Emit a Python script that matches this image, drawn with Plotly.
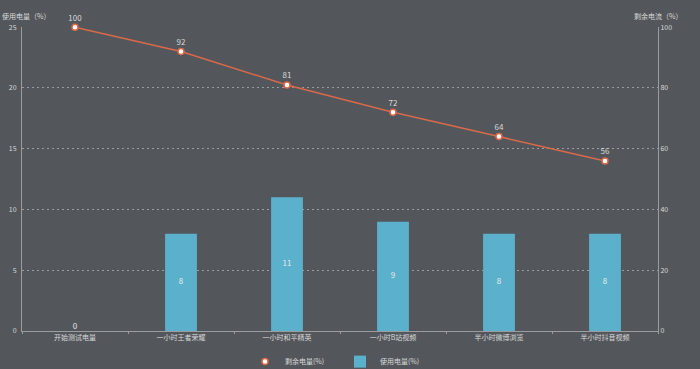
import plotly.graph_objects as go

categories = ["开始测试电量", "一小时王者荣耀", "一小时和平精英", "一小时B站视频", "半小时微博浏览", "半小时抖音视频"]
used_power = [0, 8, 11, 9, 8, 8]
remaining_power = [100, 92, 81, 72, 64, 56]
left_ticks = [0, 5, 10, 15, 20, 25]
right_ticks = [0, 20, 40, 60, 80, 100]

BG = "#53575c"
FONT = "Noto Sans CJK SC"
TXT = "#d8d8d8"
BAR = "#5bb1cc"
LINE = "#d9694a"

fig = go.Figure()
fig.add_trace(go.Bar(
    x=categories, y=used_power, name="使用电量(%)",
    marker=dict(color=BAR, line=dict(width=0)), width=0.3,
    yaxis="y", showlegend=True,
))
fig.add_trace(go.Scatter(
    x=categories, y=[v / 2 for v in used_power], mode="text",
    text=[str(v) for v in used_power],
    textposition=["top center" if v == 0 else "middle center" for v in used_power],
    textfont=dict(color="#e8e8e8", size=8, family=FONT),
    yaxis="y", showlegend=False, hoverinfo="skip", cliponaxis=False,
))
fig.add_trace(go.Scatter(
    x=categories, y=remaining_power, name="剩余电量(%)", mode="lines+markers+text",
    line=dict(color=LINE, width=1.5),
    marker=dict(color="white", size=6, line=dict(color=LINE, width=1.5)),
    text=[str(v) for v in remaining_power], textposition="top center",
    textfont=dict(color=TXT, size=8, family=FONT),
    yaxis="y2", showlegend=False, cliponaxis=False,
))
# legend entry for the line series (marker only, as in the reference)
fig.add_trace(go.Scatter(
    x=[None], y=[None], name="剩余电量(%)", mode="markers",
    marker=dict(color="white", size=6, line=dict(color=LINE, width=1.5)),
    yaxis="y2", showlegend=True,
))

fig.update_layout(
    width=700, height=369,
    paper_bgcolor=BG, plot_bgcolor=BG,
    font=dict(family=FONT, size=8, color=TXT),
    margin=dict(l=22, r=42, t=27, b=38, autoexpand=False),
    bargap=0.7,
    xaxis=dict(
        type="category", showgrid=False, showline=True, linecolor="#9a9c9f", linewidth=1,
        ticks="outside", ticklen=2, tickcolor="#9a9c9f", tickson="boundaries",
        tickfont=dict(size=7, color=TXT), zeroline=False, automargin=False,
    ),
    yaxis=dict(
        range=[0, 25.02], tickvals=left_ticks, showline=True, linecolor="#9a9c9f", linewidth=1,
        showgrid=True, gridcolor="#9a9c9f", griddash="2px,3px", gridwidth=1, zeroline=False,
        tickfont=dict(size=7, color=TXT), ticks="", ticklabelstandoff=3, automargin=False,
    ),
    yaxis2=dict(
        range=[0, 100.08], tickvals=right_ticks, overlaying="y", side="right",
        showline=True, linecolor="#9a9c9f", linewidth=1, showgrid=False, zeroline=False,
        tickfont=dict(size=7, color=TXT), ticks="", automargin=False,
    ),
    legend=dict(
        orientation="h", x=0.5, xanchor="center", yref="container", y=0.02, yanchor="middle",
        font=dict(size=7, color=TXT), traceorder="reversed", bgcolor="rgba(0,0,0,0)",
        itemwidth=30, entrywidth=50,
    ),
    annotations=[
        dict(text="使用电量（%）", x=0, xref="paper", y=1, yref="paper", xanchor="left",
             xshift=-22, yanchor="bottom", yshift=4, showarrow=False, font=dict(size=7, color=TXT)),
        dict(text="剩余电流（%）", x=1, xref="paper", y=1, yref="paper", xanchor="center",
             yanchor="bottom", yshift=4, showarrow=False, font=dict(size=7, color=TXT)),
    ],
)

fig.write_html("out.html", config={"displayModeBar": False},
               post_script="document.body.style.margin='0';document.body.style.padding='0';")
